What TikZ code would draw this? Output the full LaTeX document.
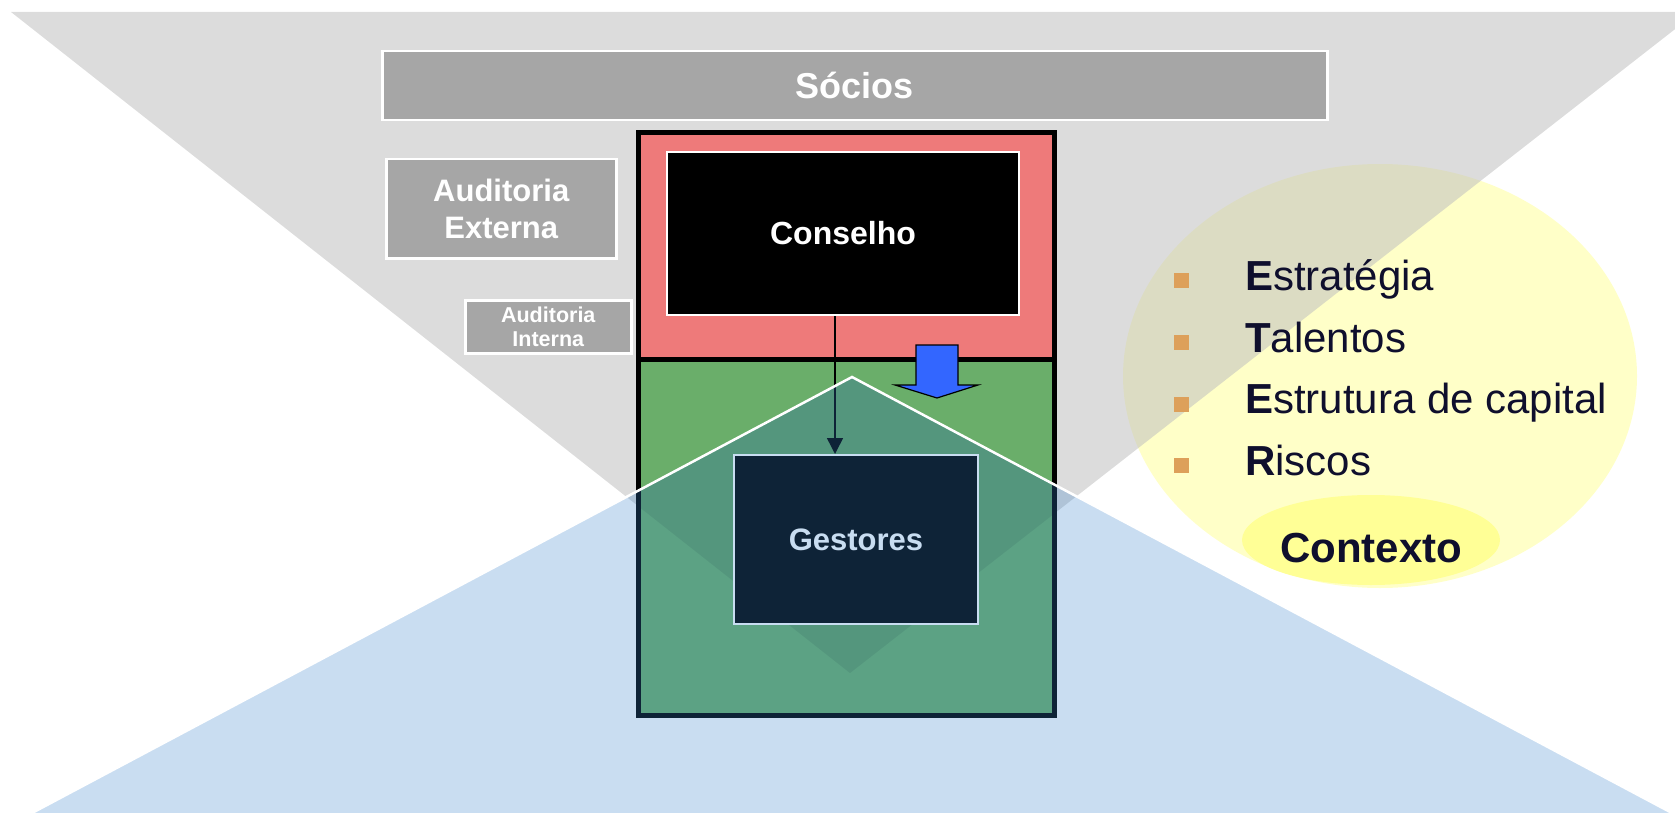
\documentclass[tikz,border=0pt]{standalone}
\usepackage{fontspec}
\setmainfont{Liberation Sans}
\usetikzlibrary{arrows.meta,calc}
\definecolor{grayT}{RGB}{192,192,192}
\definecolor{boxgray}{RGB}{166,166,166}
\definecolor{redF}{RGB}{238,122,122}
\definecolor{greenF}{RGB}{106,174,106}
\definecolor{blueT}{RGB}{55,130,204}
\definecolor{yellowA}{RGB}{255,255,200}
\definecolor{yellowB}{RGB}{255,255,150}
\definecolor{navytxt}{RGB}{15,15,45}
\definecolor{bulletc}{RGB}{221,160,90}
\definecolor{arrowblue}{RGB}{51,102,255}
\begin{document}
\begin{tikzpicture}[x=1pt,y=-1pt,
  graybox/.style={draw=white, line width=2.5pt, fill=boxgray, text=white,
    align=center, inner sep=0pt, anchor=north west},
  darkbox/.style={draw=white, line width=2pt, fill=black, text=white,
    inner sep=0pt, anchor=north west},
  bulletsq/.style={fill=bulletc, minimum size=15pt, inner sep=0pt},
  itemtxt/.style={text=navytxt, anchor=base west, inner sep=0pt,
    font=\fontsize{42}{46}\selectfont}]
\useasboundingbox (0,0) rectangle (1675,813);
\clip (0,0) rectangle (1675,813);
% yellow context circle
\fill[yellowA] (1380,376) ellipse [x radius=257pt, y radius=212pt];
% grey owners triangle
\fill[grayT, opacity=0.55] (11,12) -- (1697,12) -- (850,673) -- cycle;
% grey boxes
\node[graybox, minimum width=945pt, minimum height=69pt,
  font=\bfseries\fontsize{36}{40}\selectfont] (socios) at (381,50) {Sócios};
\node[graybox, minimum width=230pt, minimum height=99pt,
  font=\bfseries\fontsize{31}{37}\selectfont] (audext) at (385,158) {Auditoria\\Externa};
\node[graybox, minimum width=166pt, minimum height=53pt,
  font=\bfseries\fontsize{21.5}{23.5}\selectfont] (audint) at (464,299) {Auditoria\\Interna};
% board / management frame
\fill[redF] (638.5,132.5) rectangle (1054.5,359.5);
\fill[greenF] (638.5,359.5) rectangle (1054.5,715);
\begin{scope}
  \clip (641,362) rectangle (1052,712);
  \clip (852,377) -- (1704,830) -- (0,830) -- cycle;
  \fill[black, opacity=0.09] (11,12) -- (1697,12) -- (850,673) -- cycle;
\end{scope}
\draw[line width=5pt] (638.5,132.5) rectangle (1054.5,715);
\draw[line width=5pt] (638.5,359.5) -- (1054.5,359.5);
\node[darkbox, minimum width=352pt, minimum height=163pt,
  font=\bfseries\fontsize{32}{36}\selectfont] (conselho) at (666,151) {Conselho};
\node[darkbox, minimum width=244pt, minimum height=169pt,
  font=\bfseries\fontsize{31}{36}\selectfont] (gestores) at (733,454) {Gestores};
\coordinate (ax) at (835,0);
\draw[line width=1.5pt, -{Triangle[length=16pt,width=16pt]}]
  (conselho.south -| ax) -- (gestores.north -| ax);
% blue management triangle
\fill[blueT, opacity=0.27] (852,377) -- (1704,830) -- (0,830) -- cycle;
\draw[white, line width=2.5pt] (0,830) -- (852,377) -- (1704,830);
% blue block arrow
\draw[fill=arrowblue, line width=1.2pt, line join=miter]
  (916,345) -- (958,345) -- (958,385) -- (978,385) -- (937,398)
  -- (895,385) -- (916,385) -- cycle;
% context
\fill[yellowB] (1371,540) ellipse [x radius=129pt, y radius=45pt];
\node[bulletsq] (b1) at (1181.5,280) {};
\node[bulletsq] (b2) at (1181.5,342) {};
\node[bulletsq] (b3) at (1181.5,404) {};
\node[bulletsq] (b4) at (1181.5,465) {};
\node[itemtxt] (t1) at (1245,290) {\textbf{E}stratégia};
\node[itemtxt] (t2) at (1245,352) {\textbf{T}alentos};
\node[itemtxt] (t3) at (1245,413) {\textbf{E}strutura de capital};
\node[itemtxt] (t4) at (1245,475) {\textbf{R}iscos};
\node[text=navytxt, anchor=base, inner sep=0pt,
  font=\bfseries\fontsize{42}{46}\selectfont] (contexto) at (1371,562) {Contexto};
\end{tikzpicture}
\end{document}
